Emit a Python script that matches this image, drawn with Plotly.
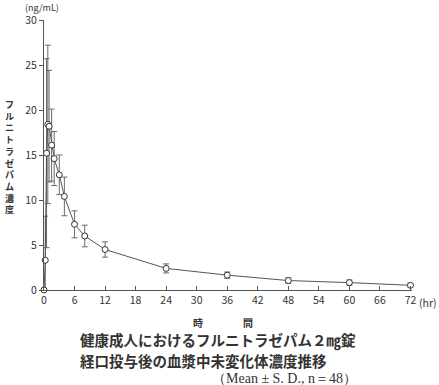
import plotly.graph_objects as go

time_hr = [0, 0.25, 0.5, 0.75, 1, 1.5, 2, 3, 4, 6, 8, 12, 24, 36, 48, 60, 72]
conc_mean = [0, 3.3, 15.2, 18.4, 18.2, 16.1, 14.6, 12.8, 10.4, 7.3, 6.0, 4.5, 2.4, 1.65, 1.05, 0.82, 0.52]
conc_sd = [0, 4.9, 10.5, 8.8, 6.2, 4.0, 3.0, 2.2, 2.15, 1.5, 1.2, 0.85, 0.5, 0.35, 0.3, 0.3, 0.25]
x_ticks = [0, 6, 12, 18, 24, 30, 36, 42, 48, 54, 60, 66, 72]
y_ticks = [0, 5, 10, 15, 20, 25, 30]

sans = "Noto Sans CJK JP"
ink = "#333333"

W, H = 439, 385
ML, MR, MT, MB = 44, 27, 20, 95
PW, PH = W - ML - MR, H - MT - MB

fig = go.Figure()
fig.add_trace(go.Scatter(
    x=time_hr, y=conc_mean, mode="lines+markers",
    line=dict(color="#555555", width=1),
    marker=dict(symbol="circle", size=6, color="white", line=dict(color="#333333", width=1)),
    error_y=dict(type="data", array=conc_sd, visible=True, color="#6a6a6a", thickness=1, width=3),
    cliponaxis=False, showlegend=False,
))

fig.update_layout(
    width=W, height=H,
    margin=dict(l=ML, r=MR, t=MT, b=MB),
    paper_bgcolor="white", plot_bgcolor="white",
    font=dict(family=sans, size=11, color=ink),
    xaxis=dict(range=[0, 72.3], tickvals=x_ticks, ticks="inside", ticklen=4, tickcolor="#555555",
               showline=True, linecolor="#555555", linewidth=1, showgrid=False, zeroline=False,
               tickfont=dict(size=10.5, color=ink)),
    yaxis=dict(range=[0, 30], tickvals=y_ticks, ticks="outside", ticklen=4, tickcolor="#555555",
               showline=True, linecolor="#555555", linewidth=1, showgrid=False, zeroline=False,
               tickfont=dict(size=10.5, color=ink)),
)

ylab = "フルニトラゼパム濃度"
annotations = [
    dict(text="(ng/mL)", x=42, y=7, size=9),
    dict(text="(hr)", x=428, y=302, size=10.5),
    dict(text="<b>時　　　　間</b>", x=223, y=322, size=10),
    dict(text="<b>健康成人におけるフルニトラゼパム２㎎錠</b>", x=79, y=340, size=14.5, anchor="left"),
    dict(text="<b>経口投与後の血漿中未変化体濃度推移</b>", x=79, y=360, size=14.5, anchor="left"),
    dict(text="（Mean ± S. D., n＝48）", x=358, y=378, size=14, anchor="right", family="Liberation Serif"),
    dict(text="<b>" + "<br>".join(ylab) + "</b>", x=9, y=157, size=9),
]

for a in annotations:
    fig.add_annotation(
        text=a["text"], x=(a["x"] - ML) / PW, y=(H - MB - a["y"]) / PH, xref="paper", yref="paper",
        xanchor=a.get("anchor", "center"), yanchor="middle", showarrow=False,
        font=dict(family=a.get("family", sans), size=a.get("size", 11), color=ink),
        align="center", borderpad=0,
    )

fig.write_html("out.html", config={"displayModeBar": False},
               post_script="document.body.style.margin='0';document.body.style.padding='0';")
